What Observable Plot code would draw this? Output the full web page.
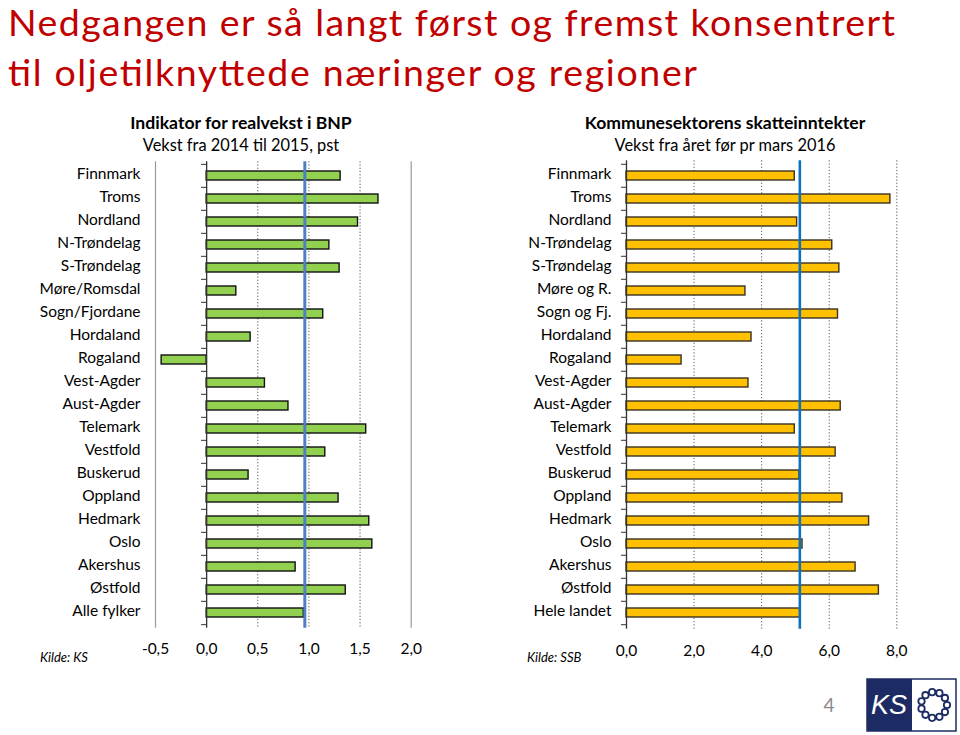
<!DOCTYPE html>
<html><head><meta charset="utf-8">
<script src="https://cdn.jsdelivr.net/npm/d3@7"></script>
<script src="https://cdn.jsdelivr.net/npm/@observablehq/plot@0.6"></script>
<style>
body{margin:0;background:#fff;}
#page{position:relative;width:960px;height:735px;overflow:hidden;font-family:Lato,sans-serif;background:#fff;}
#page > svg{position:absolute;top:0;}
</style></head><body><div id="page"></div>
<script>
// ---- data ----
const leftCats = ["Finnmark","Troms","Nordland","N-Trøndelag","S-Trøndelag","Møre/Romsdal","Sogn/Fjordane","Hordaland","Rogaland","Vest-Agder","Aust-Agder","Telemark","Vestfold","Buskerud","Oppland","Hedmark","Oslo","Akershus","Østfold","Alle fylker"];
const leftVals = [1.31,1.68,1.48,1.20,1.30,0.29,1.14,0.43,-0.44,0.57,0.80,1.56,1.16,0.41,1.29,1.59,1.62,0.87,1.36,0.95];
const leftRef = 0.96;
const leftTicks = [-0.5,0,0.5,1,1.5,2];

const rightCats = ["Finnmark","Troms","Nordland","N-Trøndelag","S-Trøndelag","Møre og R.","Sogn og Fj.","Hordaland","Rogaland","Vest-Agder","Aust-Agder","Telemark","Vestfold","Buskerud","Oppland","Hedmark","Oslo","Akershus","Østfold","Hele landet"];
const rightVals = [4.98,7.81,5.05,6.09,6.30,3.52,6.26,3.70,1.63,3.61,6.34,4.98,6.19,5.12,6.39,7.18,5.21,6.78,7.47,5.15];
const rightRef = 5.13;
const rightTicks = [0,2,4,6,8];

const title1 = "Nedgangen er så langt først og fremst konsentrert";
const title2 = "til oljetilknyttede næringer og regioner";
const leftTitle = "Indikator for realvekst i BNP";
const leftSub = "Vekst fra 2014 til 2015, pst";
const rightTitle = "Kommunesektorens skatteinntekter";
const rightSub = "Vekst fra året før pr mars 2016";
const leftSource = "Kilde: KS";
const rightSource = "Kilde: SSB";
const pageNo = "4";

const fmt = d => d.toFixed(1).replace(".", ",");
const FONT = "Lato, 'Open Sans', sans-serif";
const page = document.getElementById("page");

function chart({cats, vals, ref, ticks, domain, fill, barStroke, refColor, refWidth, gridInner, gridOuter, tickLen, mt, mb, ml, mr, tickPad, xPad}) {
  const H = 680, W = 480;
  const data = cats.map((c, i) => ({name: c, value: vals[i]}));
  const step = (H - mt - mb) / cats.length;
  const marks = [
    Plot.ruleX(gridInner, {stroke: "#555", strokeDasharray: "1.2,2", strokeWidth: 1}),
    Plot.ruleX(gridOuter, {stroke: "#9a9a9a", strokeWidth: 1.2}),
    Plot.barX(data, {x: "value", y: "name", fill, stroke: barStroke, strokeWidth: 1.4}),
    Plot.ruleX([0], {stroke: "#333", strokeWidth: 1.3}),
    Plot.ruleY(cats, {y: d => d, x1: -tickLen, x2: 0, dy: -step / 2, stroke: "#333", strokeWidth: 1}),
    Plot.ruleY(cats.slice(-1), {y: d => d, x1: -tickLen, x2: 0, dy: step / 2, stroke: "#333", strokeWidth: 1}),
    Plot.ruleX([ref], {stroke: refColor, strokeWidth: refWidth}),
    Plot.axisY({tickSize: 0, tickPadding: tickPad, fontSize: 15.5, fill: "#000", label: null, dy: -1.5}),
    Plot.axisX(ticks, {tickSize: 0, tickPadding: xPad, tickFormat: fmt, fontSize: 15.5, fill: "#000", label: null})
  ];
  return Plot.plot({
    width: W, height: H,
    marginTop: mt, marginBottom: mb, marginLeft: ml, marginRight: mr,
    x: {domain, axis: null},
    y: {domain: cats, paddingInner: 0.6, paddingOuter: 0.3, axis: null},
    style: {fontFamily: FONT, background: "transparent", overflow: "visible", color: "#000"},
    marks
  });
}

const left = chart({
  cats: leftCats, vals: leftVals, ref: leftRef, ticks: leftTicks, domain: [-0.5, 2],
  fill: "#92d050", barStroke: "#111", refColor: "#4f7fc0", refWidth: 3,
  gridInner: [0.5, 1, 1.5], gridOuter: [-0.5, 2], tickLen: 0.05,
  mt: 161.35, mb: 680 - 627.65, ml: 155, mr: 480 - 410.7, tickPad: 15, xPad: 15
});
left.style.left = "0px";
page.appendChild(left);

const right = chart({
  cats: rightCats, vals: rightVals, ref: rightRef, ticks: rightTicks, domain: [0, 8],
  fill: "#ffc000", barStroke: "#3a3222", refColor: "#0b72bd", refWidth: 2.6,
  gridInner: [2, 4, 6, 8], gridOuter: [], tickLen: 0.15,
  mt: 160.3, mb: 680 - 628.7, ml: 146, mr: 480 - 416.3, tickPad: 15, xPad: 16
});
right.style.left = "480px";
page.appendChild(right);

// ---- overlay texts & logo ----
const svg = d3.select(page).append("svg").attr("width", 960).attr("height", 735)
  .style("left", "0px").style("pointer-events", "none").style("font-family", FONT);
svg.append("text").attr("x", 8).attr("y", 36).attr("fill", "#c00000").attr("font-size", 37.5)
  .attr("textLength", 887).attr("lengthAdjust", "spacing").text(title1);
svg.append("text").attr("x", 8).attr("y", 86).attr("fill", "#c00000").attr("font-size", 37.5)
  .attr("textLength", 689).attr("lengthAdjust", "spacing").text(title2);
svg.append("text").attr("x", 241).attr("y", 129).attr("text-anchor", "middle").attr("font-weight", "bold").attr("font-size", 17.6).text(leftTitle);
svg.append("text").attr("x", 241).attr("y", 151).attr("text-anchor", "middle").attr("font-size", 16.4).text(leftSub);
svg.append("text").attr("x", 725).attr("y", 129).attr("text-anchor", "middle").attr("font-weight", "bold").attr("font-size", 17.6).text(rightTitle);
svg.append("text").attr("x", 725).attr("y", 151).attr("text-anchor", "middle").attr("font-size", 16.4).text(rightSub);
svg.append("text").attr("x", 40).attr("y", 662).attr("font-style", "italic").attr("font-size", 13).text(leftSource);
svg.append("text").attr("x", 527).attr("y", 662).attr("font-style", "italic").attr("font-size", 13).text(rightSource);
svg.append("text").attr("x", 829).attr("y", 712).attr("text-anchor", "middle").attr("fill", "#8a8a8a").attr("font-size", 19).text(pageNo);

const logo = svg.append("g");
logo.append("rect").attr("x", 867).attr("y", 679).attr("width", 89).attr("height", 52).attr("fill", "#fff").attr("stroke", "#1d2b64").attr("stroke-width", 1.5);
logo.append("rect").attr("x", 867).attr("y", 679).attr("width", 45).attr("height", 52).attr("fill", "#1d2b64");
logo.append("text").attr("x", 889).attr("y", 714).attr("text-anchor", "middle").attr("fill", "#fff").attr("font-style", "italic").attr("font-size", 27).attr("font-family", "'Liberation Sans', sans-serif").text("KS");
for (let k = 0; k < 11; k++) {
  const a = k / 11 * 2 * Math.PI;
  logo.append("circle").attr("cx", 934 + 13 * Math.cos(a)).attr("cy", 705 + 13 * Math.sin(a)).attr("r", 3.2)
    .attr("fill", "none").attr("stroke", "#1d2b64").attr("stroke-width", 1.8);
}
</script></body></html>
